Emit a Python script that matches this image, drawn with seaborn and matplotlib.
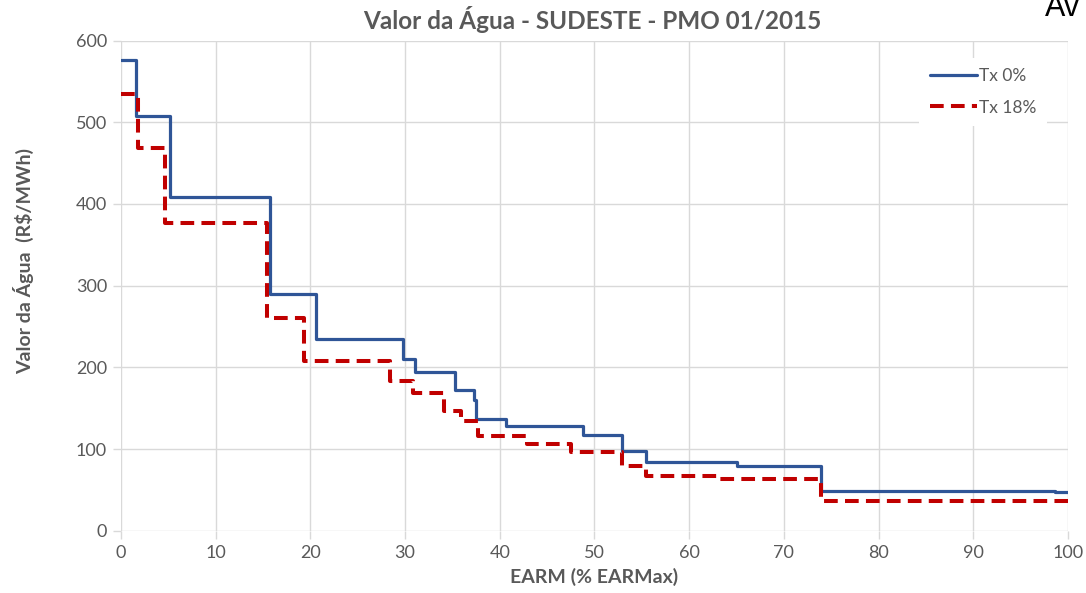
import numpy as np
import pandas as pd
import matplotlib
matplotlib.use("Agg")
import matplotlib.pyplot as plt
import seaborn as sns

# step points (x = EARM %, y = water value R$/MWh), steps-post
earm_tx0 = [0, 1.6, 5.2, 15.7, 20.6, 29.8, 31.0, 35.3, 37.3, 37.5, 40.7, 48.8, 52.9, 55.4, 65.1, 73.9, 98.6, 100]
valor_tx0 = [576, 508, 408, 290, 235, 210, 195, 172, 160, 137, 129, 118, 98, 84, 80, 49, 48, 48]

earm_tx18 = [0, 1.8, 4.7, 15.4, 19.3, 28.4, 30.8, 34.1, 35.9, 37.7, 42.9, 47.5, 52.9, 55.4, 63.3, 73.9, 100]
valor_tx18 = [534, 468, 377, 261, 208, 184, 169, 147, 135, 116, 106, 96, 80, 67, 63, 37, 37]

series_names = ["Tx 0%", "Tx 18%"]
x_ticks = [0, 10, 20, 30, 40, 50, 60, 70, 80, 90, 100]
y_ticks = [0, 100, 200, 300, 400, 500, 600]

df = pd.concat([
    pd.DataFrame({"earm": earm_tx0, "valor": valor_tx0, "serie": series_names[0]}),
    pd.DataFrame({"earm": earm_tx18, "valor": valor_tx18, "serie": series_names[1]}),
])

sns.set_style("white")
plt.rcParams["font.family"] = ["Lato", "DejaVu Sans"]

gray = "#595959"
grid = "#d9d9d9"

fig = plt.figure(figsize=(10.86, 5.93), dpi=100)
ax = fig.add_axes([0.1114, 0.1046, 0.8720, 0.8271])

colors = {"Tx 0%": "#2f5597", "Tx 18%": "#c00000"}
for name, lw, ls in [("Tx 0%", 2.3, "-"), ("Tx 18%", 2.9, (0, (3.4, 1.8)))]:
    sub = df[df["serie"] == name]
    sns.lineplot(data=sub, x="earm", y="valor", ax=ax, color=colors[name],
                 linewidth=lw, linestyle=ls, drawstyle="steps-post",
                 label=name, sort=False, estimator=None, zorder=3)

ax.set_xlim(0, 100)
ax.set_ylim(0, 600)
ax.set_xticks(x_ticks)
ax.set_yticks(y_ticks)
ax.grid(True, color=grid, linewidth=1.0, zorder=0)
for s in ax.spines.values():
    s.set_visible(False)
ax.tick_params(axis="both", length=6, width=1.0, color=grid, labelsize=13,
               labelcolor=gray, pad=4, direction="out")
ax.tick_params(axis="both", which="both", bottom=True, left=True)

ax.set_xlabel("EARM (% EARMax)", fontsize=14, fontweight="bold", color=gray)
ax.set_ylabel("Valor da Água  (R$/MWh)", fontsize=14, fontweight="bold", color=gray)
ax.xaxis.set_label_coords(0.5, -0.075)
ax.yaxis.set_label_coords(-0.092, (531 - 261) / 490.5)

fig.text(0.545, 0.967, "Valor da Água - SUDESTE - PMO 01/2015", ha="center", va="center",
         fontsize=17.5, fontweight="bold", color=gray)
fig.text(1045 / 1086, 1 - 16 / 593, "Av", ha="left", va="baseline", fontsize=22,
         color="black", family=["Liberation Sans", "DejaVu Sans"])

leg = ax.legend(loc="upper right", bbox_to_anchor=(0.987, 0.983), frameon=True,
                fontsize=12.5, handlelength=2.7, labelspacing=0.9, borderpad=0.6,
                handletextpad=0.15, framealpha=1.0)
leg.get_frame().set_edgecolor("white")
leg.get_frame().set_linewidth(0)
for t in leg.get_texts():
    t.set_color(gray)

fig.savefig("out.png", dpi=100)
